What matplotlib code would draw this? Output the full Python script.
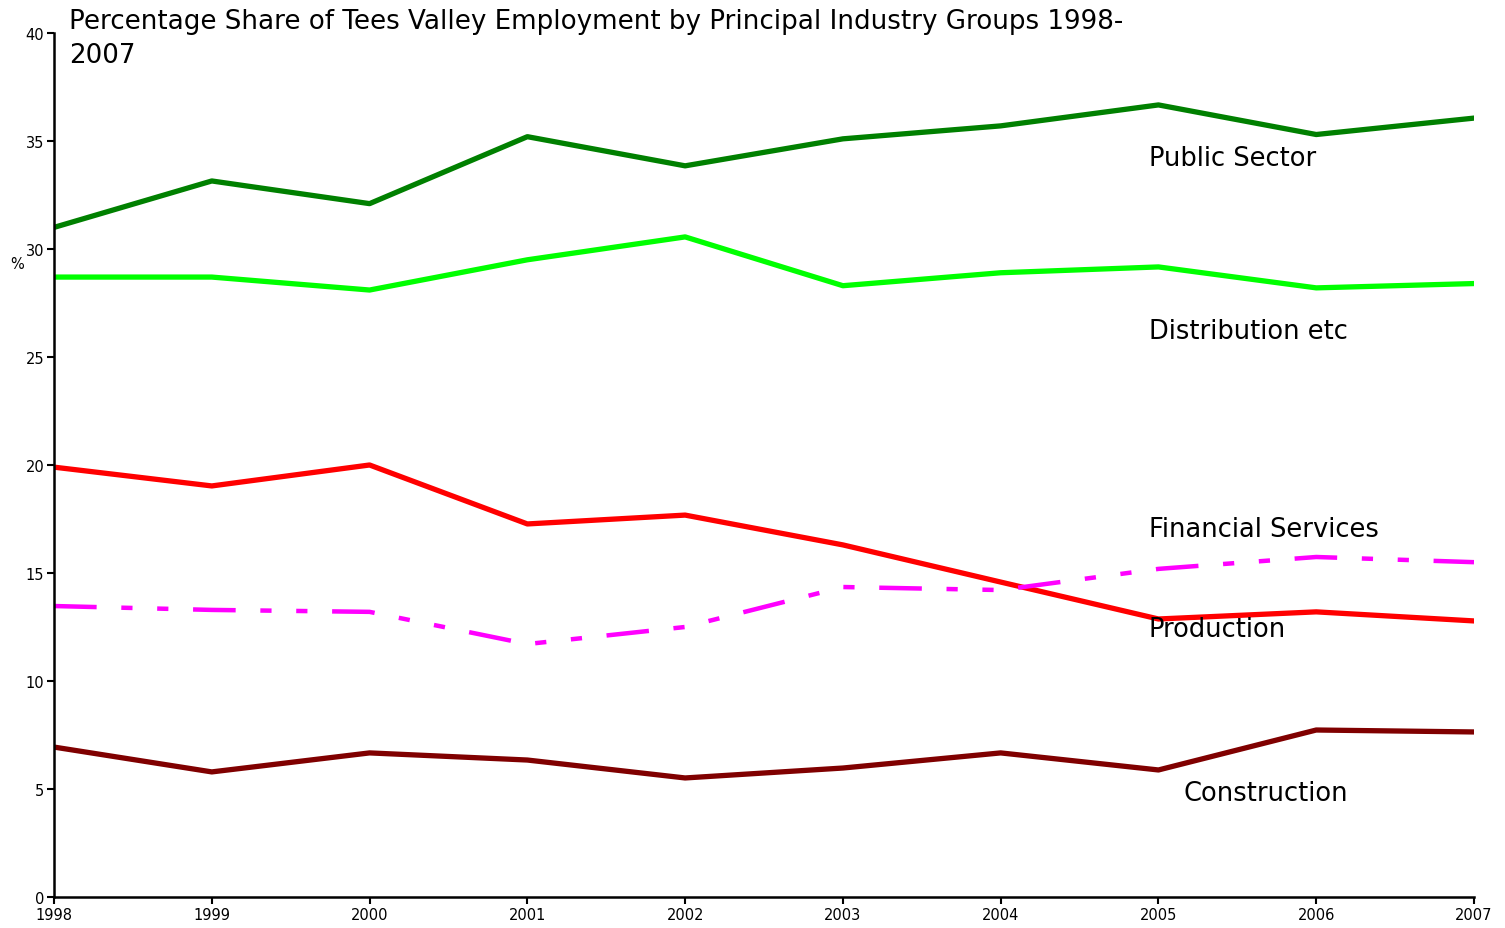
import numpy as np
import matplotlib.pyplot as plt
plt.rcParams["font.family"] = ["DejaVu Sans"]

years = [1998, 1999, 2000, 2001, 2002, 2003, 2004, 2005, 2006, 2007]
public_sector = [31.0, 33.15, 32.1, 35.2, 33.85, 35.1, 35.7, 36.67, 35.3, 36.06]
distribution = [28.7, 28.7, 28.1, 29.5, 30.56, 28.3, 28.9, 29.17, 28.2, 28.4]
production = [19.9, 19.03, 20.0, 17.27, 17.68, 16.3, 14.58, 12.87, 13.2, 12.78]
financial = [13.47, 13.29, 13.2, 11.71, 12.5, 14.35, 14.21, 15.19, 15.74, 15.5]
construction = [6.94, 5.79, 6.67, 6.34, 5.51, 5.97, 6.67, 5.88, 7.73, 7.64]

fig = plt.figure(figsize=(15.05, 9.29), dpi=100)
ax = fig.add_axes([0.0359, 0.0334, 0.9435, 0.930])

lw = 3.8
ax.plot(years, public_sector, color="#008000", lw=lw)
ax.plot(years, distribution, color="#00FF00", lw=lw)
ax.plot(years, production, color="#FF0000", lw=lw)
ax.plot(years, financial, color="#FF00FF", lw=lw * 0.85,
        dashes=(9.5, 5.5, 2.5, 5.5, 2.5, 5.5), dash_capstyle="butt")
ax.plot(years, construction, color="#800000", lw=lw)

ax.set_xlim(1998, 2007)
ax.set_ylim(0, 40)
ax.set_xticks(years)
ax.set_xticklabels([str(y) for y in years], fontsize=10.5)
ax.set_yticks(np.arange(0, 41, 5))
ax.set_yticklabels([str(v) for v in range(0, 41, 5)], fontsize=10.5)
ax.tick_params(direction="out", length=5, width=1.5, pad=2)

for s in ["top", "right"]:
    ax.spines[s].set_visible(False)
for s in ["left", "bottom"]:
    ax.spines[s].set_linewidth(1.8)

lab = dict(fontsize=18.5, va="center", ha="left")
ax.text(2004.94, 34.2, "Public Sector", **lab)
ax.text(2004.94, 26.2, "Distribution etc", **lab)
ax.text(2004.94, 17.05, "Financial Services", **lab)
ax.text(2004.94, 12.4, "Production", **lab)
ax.text(2005.16, 4.8, "Construction", **lab)

fig.text(0.0113, 0.715, "%", fontsize=10.5, ha="center", va="center")
fig.text(0.0458, 0.990, "Percentage Share of Tees Valley Employment by Principal Industry Groups 1998-\n2007",
         fontsize=18.8, ha="left", va="top", linespacing=1.4)

fig.savefig("out.png", dpi=100)
